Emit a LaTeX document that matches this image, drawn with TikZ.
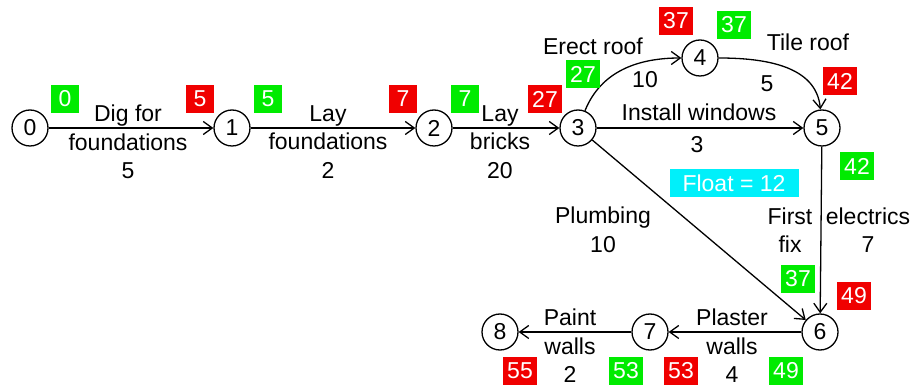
\documentclass[tikz,border=0pt]{standalone}
\usepackage{fontspec}
\setmainfont{Liberation Sans}
\usetikzlibrary{arrows.meta}
\definecolor{bred}{RGB}{240,0,0}
\definecolor{bgreen}{RGB}{0,235,0}
\definecolor{bcyan}{RGB}{0,240,250}
\begin{document}
\begin{tikzpicture}[x=1pt,y=-1pt,
  every node/.style={font=\fontsize{23}{28.5}\selectfont},
  ev/.style={circle,draw,line width=1.3pt,minimum size=36pt,inner sep=0pt},
  lbl/.style={align=center,inner sep=0pt},
  tbox/.style={text=white,minimum height=28pt,minimum width=28pt,inner xsep=4.5pt,inner ysep=0pt},
  late/.style={tbox,fill=bred},
  early/.style={tbox,fill=bgreen},
  arr/.style={line width=1.3pt,-{Straight Barb[length=9pt,width=13pt,line width=1.3pt]}}]
\useasboundingbox (0,0) rectangle (914,387);
% events
\node[ev] (n0) at (30,128) {0};
\node[ev] (n1) at (232,128) {1};
\node[ev] (n2) at (434,128) {2};
\node[ev] (n3) at (578,128) {3};
\node[ev] (n4) at (700,58) {4};
\node[ev] (n5) at (822,128) {5};
\node[ev] (n6) at (820,332) {6};
\node[ev] (n7) at (650,332) {7};
\node[ev] (n8) at (500,332) {8};
% activities
\draw[arr] (n0) -- (n1);
\draw[arr] (n1) -- (n2);
\draw[arr] (n2) -- (n3);
\draw[arr] (n3) to[out=68,in=180] (n4);
\draw[arr] (n4) to[out=0,in=95] (n5);
\draw[arr] (n3) -- (n5);
\draw[arr] (n3) -- (n6);
\draw[arr] (n5) -- (n6);
\draw[arr] (n6) -- (n7);
\draw[arr] (n7) -- (n8);
% labels
\node[lbl] (l01) at (128,142) {Dig for\\foundations\\5};
\node[lbl] (l12) at (328,142) {Lay\\foundations\\2};
\node[lbl] (l23) at (500,142) {Lay\\bricks\\20};
\node[lbl] (l34a) at (593,46) {Erect roof};
\node[lbl] (l34b) at (645,80) {10};
\node[lbl] (l45a) at (808,42) {Tile roof};
\node[lbl] (l45b) at (767,84) {5};
\node[lbl] (l35a) at (699,112) {Install windows};
\node[lbl] (l35b) at (697,145) {3};
\node[lbl] (l36) at (603,230) {Plumbing\\10};
\node[lbl] (l56a) at (790,230) {First\\fix};
\node[lbl] (l56b) at (868,230) {electrics\\7};
\node[lbl] (l67) at (732,346) {Plaster\\walls\\4};
\node[lbl] (l78) at (570,346) {Paint\\walls\\2};
% times
\node[early] (e0) at (65,99) {0};
\node[late] (t1) at (200,99) {5};
\node[early] (e1) at (268,99) {5};
\node[late] (t2) at (403,99) {7};
\node[early] (e2) at (465,99) {7};
\node[late] (t3) at (545,99) {27};
\node[early] (e3) at (583,74) {27};
\node[late] (t4) at (676,21) {37};
\node[early] (e4) at (734,25) {37};
\node[late] (t5) at (840,81) {42};
\node[early] (e5) at (857,166) {42};
\node[early] (e6) at (798,279) {37};
\node[late] (t6) at (854,296) {49};
\node[early] (e6b) at (786,371) {49};
\node[late] (t7) at (681,371) {53};
\node[early] (e7) at (626,371) {53};
\node[late] (t8) at (520,371) {55};
\node[tbox,fill=bcyan,minimum width=129pt] (fl) at (734,183) {Float = 12};
\end{tikzpicture}
\end{document}
